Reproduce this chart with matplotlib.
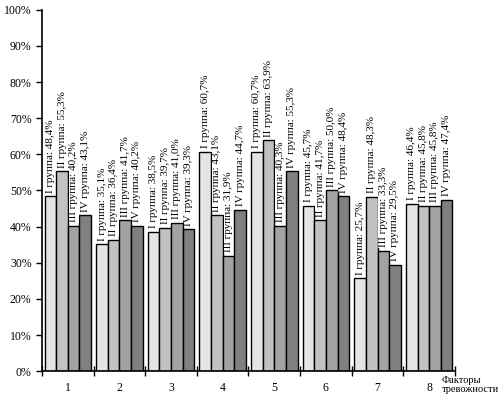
import matplotlib.pyplot as plt
from matplotlib.ticker import FuncFormatter

# данные
factors = [1, 2, 3, 4, 5, 6, 7, 8]
groups = ['I', 'II', 'III', 'IV']
g1 = [48.4, 35.1, 38.5, 60.7, 60.7, 45.7, 25.7, 46.4]
g2 = [55.3, 36.4, 39.7, 43.1, 63.9, 41.7, 48.3, 45.8]
g3 = [40.2, 41.7, 41.0, 31.9, 40.3, 50.0, 33.3, 45.8]
g4 = [43.1, 40.2, 39.3, 44.7, 55.3, 48.4, 29.5, 47.4]
series = [g1, g2, g3, g4]
colors = ['#e4e4e4', '#c2c2c2', '#a2a2a2', '#808080']

plt.rcParams['font.family'] = ['Liberation Serif', 'DejaVu Serif']

fig = plt.figure(figsize=(5, 3.94), dpi=100)
ax = fig.add_axes([0.084, 0.058, 0.826, 0.917])

w = 0.225
for j, vals in enumerate(series):
    xs = [f + (j - 1.5) * w for f in factors]
    ax.bar(xs, vals, width=w, color=colors[j], edgecolor='black', linewidth=1, zorder=2)
    for x, v in zip(xs, vals):
        txt = '%s группа: %s%%' % (groups[j], ('%.1f' % v).replace('.', ','))
        ax.text(x, v + 1.0, txt, rotation=90, ha='center', va='bottom',
                fontsize=8, zorder=3,
                bbox=dict(facecolor='white', edgecolor='none', pad=0.3))

ax.set_xlim(0.5, 8.5)
ax.set_ylim(0, 100)
ax.set_yticks(range(0, 101, 10))
ax.yaxis.set_major_formatter(FuncFormatter(lambda v, p: '%d%%' % v))
ax.set_xticks([x + 0.5 for x in range(0, 9)])
ax.set_xticklabels([])
ax.set_xticks(factors, minor=True)
ax.set_xticklabels([str(f) for f in factors], minor=True)
ax.tick_params(axis='x', which='minor', length=0, pad=8, labelsize=8.5)
ax.tick_params(axis='x', which='major', direction='inout', length=7, width=1)
ax.tick_params(axis='y', direction='out', length=4, width=1, labelsize=8.5)

for s in ['top', 'right']:
    ax.spines[s].set_visible(False)
for s in ['left', 'bottom']:
    ax.spines[s].set_linewidth(1.2)

fig.text(0.884, 0.0, 'Факторы\nтревожности', fontsize=7.5, ha='left', va='bottom',
         linespacing=1.0)

fig.savefig('out.png', dpi=100)
